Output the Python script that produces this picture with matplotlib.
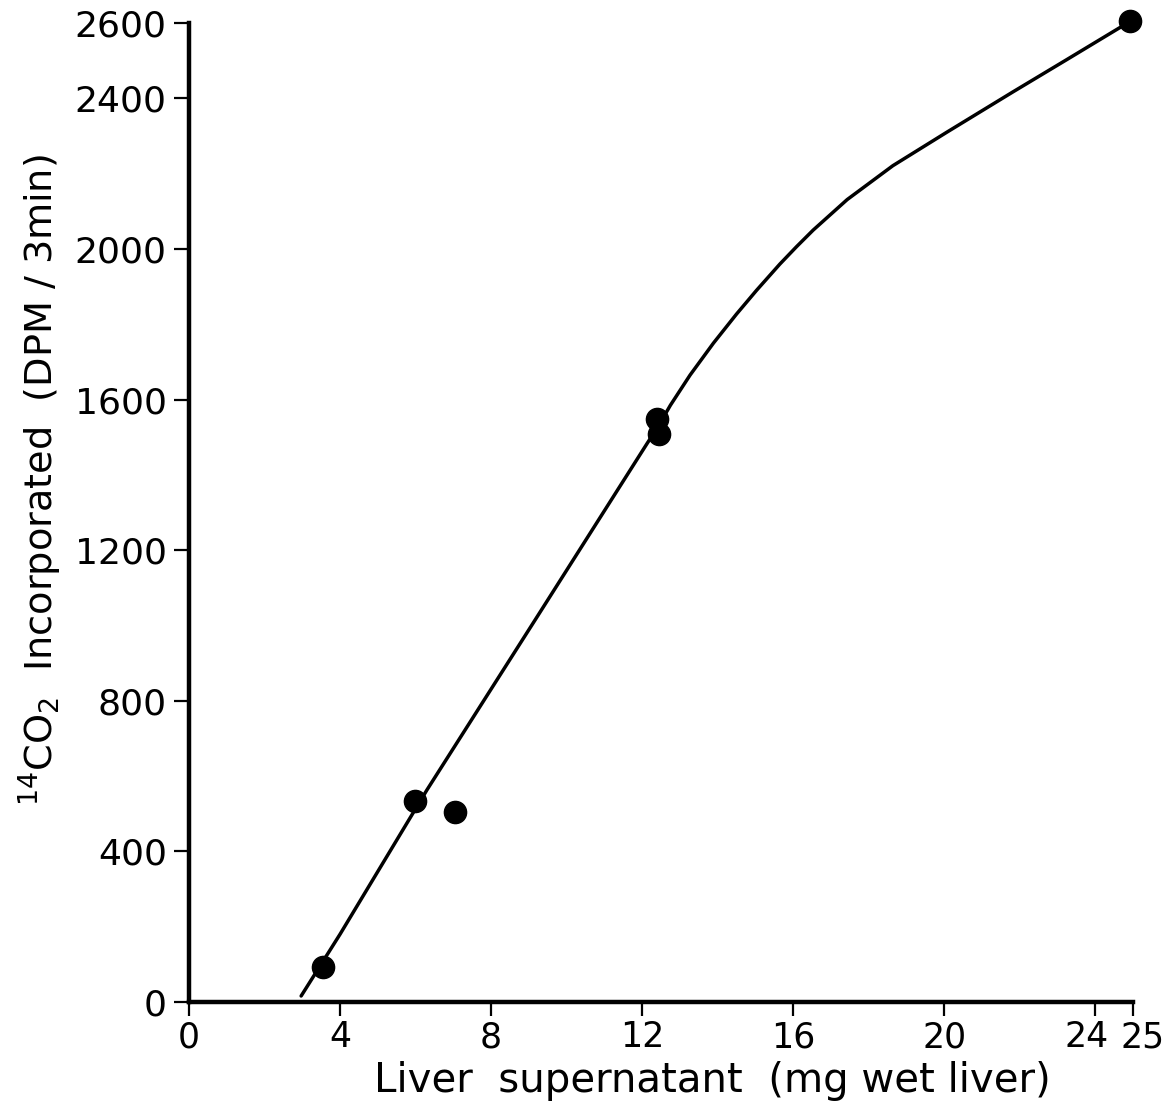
import matplotlib
matplotlib.use("Agg")
import matplotlib.pyplot as plt
import matplotlib.transforms as mtransforms

# measured data points
point_x = [3.55, 5.99, 7.04, 12.39, 12.45, 24.92]
point_y = [93, 534, 504, 1548, 1508, 2604]

# hand-drawn curve
curve_x = [2.97, 4.0, 6.3, 9.2, 12.13, 12.42, 12.75, 13.27, 13.89, 14.50,
           15.03, 15.65, 16.09, 16.53, 17.43, 18.64, 20.07, 21.82, 23.25,
           24.92]
curve_y = [16, 180, 563, 1020, 1483, 1528, 1585, 1665, 1750, 1827,
           1890, 1960, 2006, 2050, 2131, 2221, 2310, 2417, 2503,
           2604]

x_ticks = [0, 4, 8, 12, 16, 20, 24, 25]
y_ticks = [0, 400, 800, 1200, 1600, 2000, 2400, 2600]

plt.rcParams['font.family'] = ['DejaVu Sans']
plt.rcParams['mathtext.fontset'] = 'dejavusans'

fig = plt.figure(figsize=(11.74, 11.01), dpi=100)
ax = fig.add_axes([189 / 1174, 99 / 1101, 944 / 1174, 979 / 1101])

ax.plot(curve_x, curve_y, color='black', lw=2.5, solid_capstyle='round',
        solid_joinstyle='round', zorder=2, clip_on=False)
ax.plot(point_x, point_y, 'o', color='black', markersize=16, zorder=3,
        clip_on=False)

ax.set_xlim(0, 25)
ax.set_ylim(0, 2600)
ax.set_xticks(x_ticks)
ax.set_xticklabels([str(v) for v in x_ticks])
ax.set_yticks(y_ticks)
ax.set_yticklabels([str(v) for v in y_ticks])

for s in ['top', 'right']:
    ax.spines[s].set_visible(False)
for s in ['left', 'bottom']:
    ax.spines[s].set_linewidth(3.2)
    ax.spines[s].set_color('black')
    ax.spines[s].set_capstyle('projecting')

ax.tick_params(axis='y', direction='out', length=11, width=1.6, pad=5,
               labelsize=26, colors='black')
ax.tick_params(axis='x', direction='out', length=10, width=1.6, pad=3,
               labelsize=25, colors='black')

# nudge the crowded 24 / 25 labels apart, as in the original
shifts = {24: -9, 25: 10}
for val, lbl in zip(x_ticks, ax.get_xticklabels()):
    if val in shifts:
        off = mtransforms.ScaledTranslation(shifts[val] / 100, 0, fig.dpi_scale_trans)
        lbl.set_transform(lbl.get_transform() + off)

fig.text(40 / 1174, 1 - 480 / 1101,
         r'$^{14}$CO$_2$  Incorporated  (DPM / 3min)',
         rotation=90, ha='center', va='center', fontsize=27.5)
fig.text(712 / 1174, 1 - 1092 / 1101,
         'Liver  supernatant  (mg wet liver)',
         ha='center', va='baseline', fontsize=29)

fig.savefig('out.png', dpi=100, facecolor='white')
